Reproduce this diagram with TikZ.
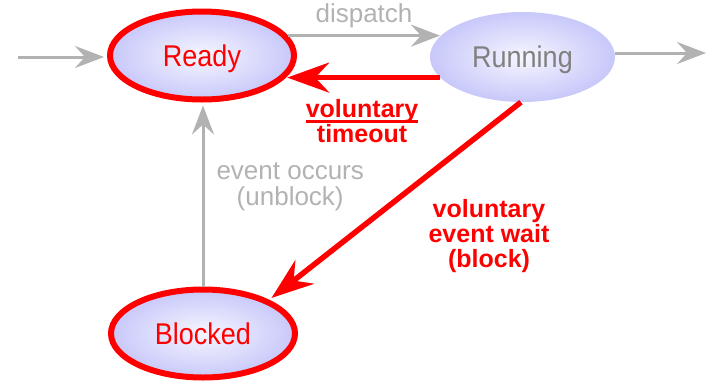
\documentclass[tikz,border=0pt]{standalone}
\usepackage{fontspec}
\setmainfont{Liberation Sans}
\newfontfamily\statefont[FakeStretch=0.9]{Liberation Sans}
\usetikzlibrary{shapes.geometric, arrows.meta}
\definecolor{procred}{RGB}{255, 0, 0}
\definecolor{arrowgray}{RGB}{178, 178, 178}
\definecolor{textgray}{RGB}{128, 128, 128}
\definecolor{ballin}{RGB}{246, 246, 255}
\definecolor{ballout}{RGB}{200, 200, 250}
\newcommand{\ulword}[1]{\setbox0\hbox{#1}\rlap{\rule[-5.5pt]{\wd0}{2.5pt}}\box0}

\begin{document}
\begin{tikzpicture}[x=1pt, y=-1pt,
  state/.style={ellipse, inner color=ballin, outer color=ballout, minimum width=184pt, minimum height=88pt, inner sep=0pt, text height=21.5pt, text depth=0pt, font=\statefont\fontsize{30}{32}\selectfont},
  hot/.style={draw=procred, line width=6pt, text=procred},
  garrow/.style={-{Stealth[length=29pt, width=22pt, inset=10pt]}, line width=3pt, draw=arrowgray},
  rarrow/.style={-{Stealth[length=42pt, width=30pt, inset=14pt]}, line width=5.5pt, draw=procred},
  glabel/.style={text=arrowgray, align=center, inner sep=0pt, font=\fontsize{26}{26}\selectfont},
  rlabel/.style={text=procred, align=center, inner sep=0pt, font=\fontsize{25}{25}\selectfont\bfseries},
]
  \useasboundingbox (0,0) rectangle (707,381);

  % States
  \node[state, hot] (ready) at (202, 55.5) {Ready};
  \node[state, text=textgray, minimum width=185pt, minimum height=90pt] (running) at (522.5, 57) {Running};
  \node[state, hot] (blocked) at (203, 333.5) {Blocked};

  \coordinate (in) at (18, 57);
  \coordinate (out) at (706, 53);

  % Transitions
  \draw[garrow, shorten >=3pt] (in) -- (in -| ready.west);
  \draw[garrow] (running.east |- out) -- (out);
  \draw[garrow] (ready.13) -- (ready.13 -| running.166) node[glabel, midway, above=6pt] {dispatch};
  \draw[rarrow, shorten >=3pt] (running.194) -- (running.194 -| ready.-16) node[rlabel, midway, below=19pt] {\ulword{voluntary}\\timeout};
  \draw[rarrow, shorten >=3pt] (running.-92) -- (blocked.27);
  \draw[garrow, shorten >=3pt] (blocked.north) -- (blocked.north |- ready.south) node[glabel, pos=.54, right=12pt] {event occurs\\(unblock)};

  % Label of the block transition
  \node[rlabel] (waitlbl) at (489, 236) {voluntary\\event wait\\(block)};
\end{tikzpicture}
\end{document}
